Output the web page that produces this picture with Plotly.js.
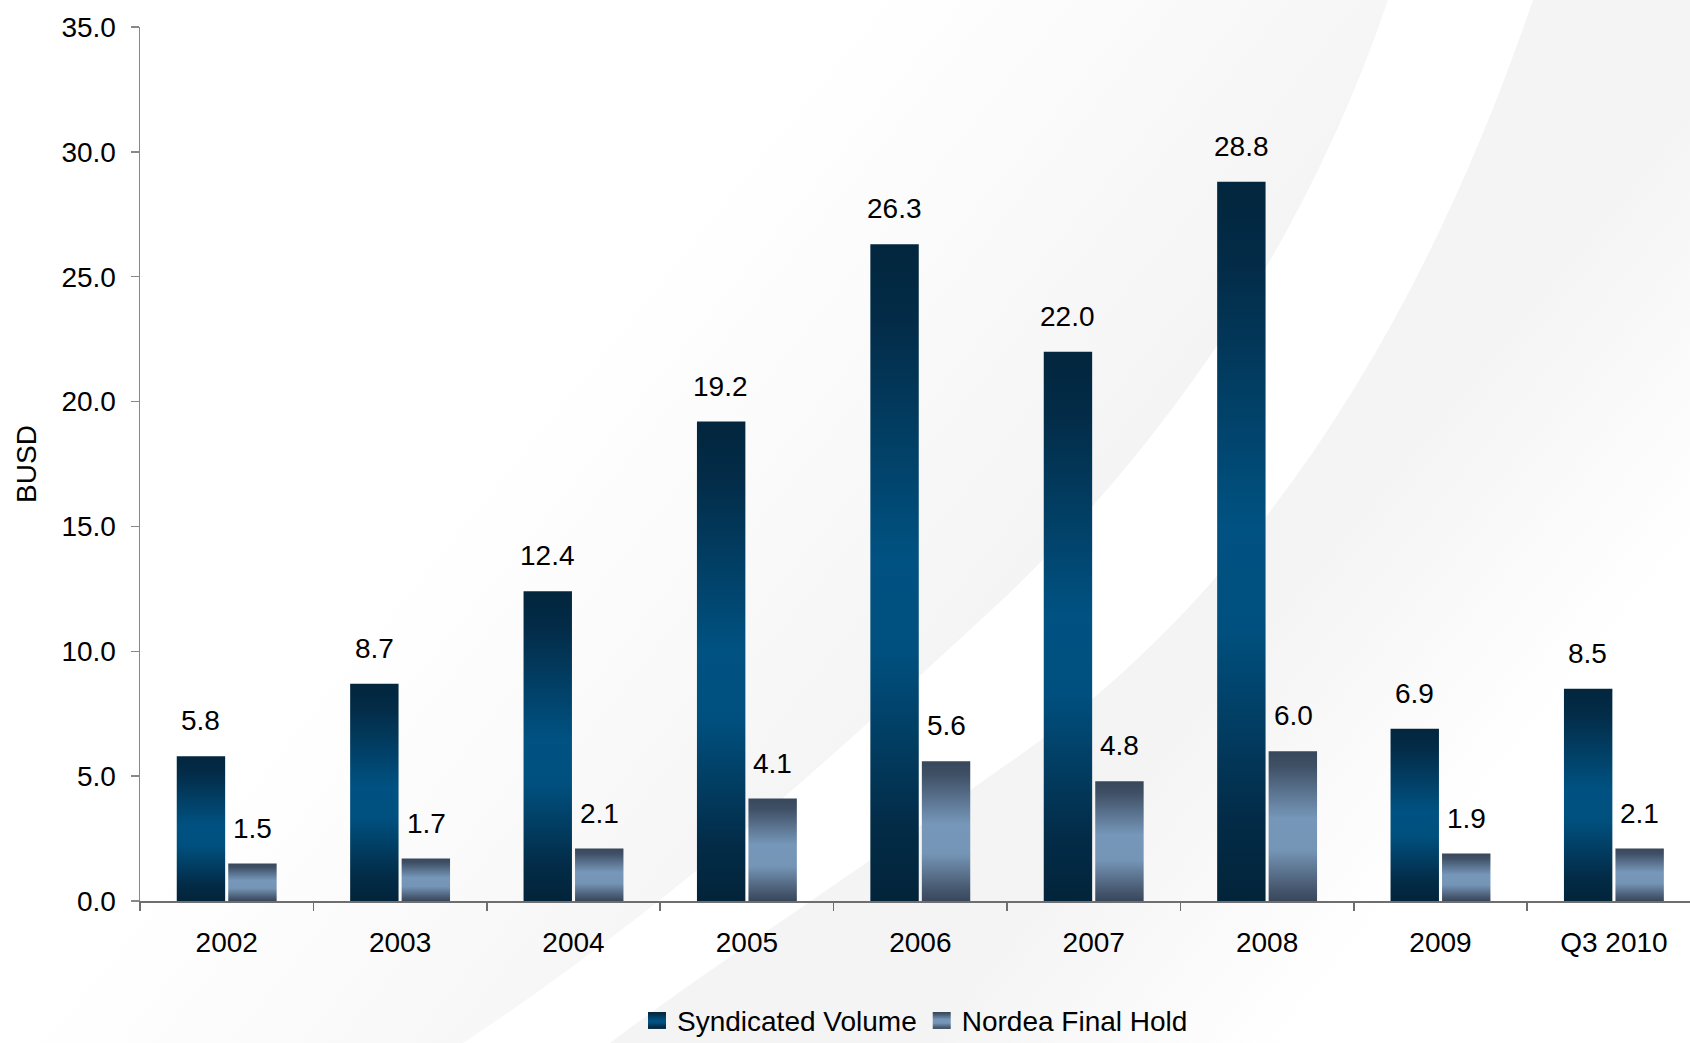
<!DOCTYPE html>
<html>
<head>
<meta charset="utf-8">
<script src="https://cdn.plot.ly/plotly-3.0.1.min.js"></script>
<style>
  html, body { margin: 0; padding: 0; background: #ffffff; }
  #chart { width: 1690px; height: 1043px; }
</style>
</head>
<body>
<div id="chart"></div>
<script>
// ---- data ----
var categories = ["2002", "2003", "2004", "2005", "2006", "2007", "2008", "2009", "Q3 2010"];
var syndicatedVolume = [5.8, 8.7, 12.4, 19.2, 26.3, 22.0, 28.8, 6.9, 8.5];
var nordeaFinalHold = [1.5, 1.7, 2.1, 4.1, 5.6, 4.8, 6.0, 1.9, 2.1];
var seriesNames = ["Syndicated Volume", "Nordea Final Hold"];
var yTickValues = [0, 5, 10, 15, 20, 25, 30, 35];

var FONT = "Liberation Sans, Arial, Helvetica, sans-serif";

var W = 1690, H = 1043;
var mL = 140, mR = 0, mT = 27, mB = 142;
var plotW = W - mL - mR, plotH = H - mT - mB;
var catW = 173.4; // pixel width of one category in the reference
var xMax = -0.5 + plotW / catW;

// background swoosh (decoration only)
var bgSvg =
  "<svg xmlns='http://www.w3.org/2000/svg' width='1690' height='1043' viewBox='0 0 1690 1043'>" +
  "<defs>" +
  "<linearGradient id='a' gradientUnits='userSpaceOnUse' x1='640' y1='280' x2='1060' y2='620'>" +
  "<stop offset='0' stop-color='#ffffff'/><stop offset='1' stop-color='#f3f3f3'/></linearGradient>" +
  "<linearGradient id='b' gradientUnits='userSpaceOnUse' x1='1180' y1='720' x2='1400' y2='900'>" +
  "<stop offset='0' stop-color='#f4f4f4'/><stop offset='1' stop-color='#ffffff'/></linearGradient>" +
  "</defs>" +
  "<rect width='1690' height='1043' fill='#ffffff'/>" +
  "<path d='M1388,0 C1300,260 1150,460 1000,602 C850,740 680,900 463,1043 L0,1043 L0,0 Z' fill='url(#a)'/>" +
  "<path d='M1533,0 C1420,330 1250,600 1000,769 C860,870 720,960 610,1043 L1690,1043 L1690,0 Z' fill='url(#b)'/>" +
  "</svg>";
var bgUri = "data:image/svg+xml;charset=utf-8," + encodeURIComponent(bgSvg);

var traceSyn = {
  type: "bar",
  name: seriesNames[0],
  x: categories,
  y: syndicatedVolume,
  marker: { color: "#004a78", line: { width: 0 } },
  hoverinfo: "skip"
};
var traceNor = {
  type: "bar",
  name: seriesNames[1],
  x: categories,
  y: nordeaFinalHold,
  marker: { color: "#6a88aa", line: { width: 0 } },
  hoverinfo: "skip"
};

var annotations = [];
function addLabels(values, shift) {
  for (var i = 0; i < categories.length; i++) {
    annotations.push({
      x: i, y: values[i], xref: "x", yref: "y",
      text: values[i].toFixed(1), showarrow: false,
      xanchor: "center", yanchor: "bottom",
      xshift: shift, yshift: 18,
      font: { family: FONT, size: 28, color: "#000000" }
    });
  }
}
addLabels(syndicatedVolume, -26);
addLabels(nordeaFinalHold, 26);

var layout = {
  width: W, height: H,
  margin: { l: mL, r: mR, t: mT, b: mB, pad: 0, autoexpand: false },
  paper_bgcolor: "#ffffff",
  plot_bgcolor: "rgba(0,0,0,0)",
  font: { family: FONT, size: 28, color: "#000000" },
  showlegend: true,
  barmode: "group",
  bargap: 0.406,
  bargroupgap: 0.06,
  images: [{
    source: bgUri, xref: "paper", yref: "paper",
    x: -mL / plotW, y: 1 + mT / plotH,
    sizex: W / plotW, sizey: H / plotH,
    xanchor: "left", yanchor: "top",
    sizing: "stretch", layer: "below", opacity: 1
  }],
  xaxis: {
    type: "category",
    range: [-0.5, xMax],
    showgrid: false, zeroline: false,
    showline: true, linecolor: "#6e6e6e", linewidth: 1.5,
    ticks: "outside", tickson: "boundaries", ticklen: 8, tickwidth: 1.5, tickcolor: "#6e6e6e",
    tickfont: { family: FONT, size: 28, color: "#000000" },
    ticklabelstandoff: 16,
    fixedrange: true
  },
  yaxis: {
    range: [0, 35],
    tickvals: yTickValues,
    tickformat: ".1f",
    showgrid: false, zeroline: false,
    showline: true, linecolor: "#888888", linewidth: 1.5,
    ticks: "outside", ticklen: 8, tickwidth: 1.5, tickcolor: "#888888",
    tickfont: { family: FONT, size: 28, color: "#000000" },
    ticklabelstandoff: 9,
    title: { text: "BUSD", font: { family: FONT, size: 28, color: "#000000" }, standoff: 16 },
    fixedrange: true
  },
  legend: {
    orientation: "h",
    x: 0.5, xanchor: "center",
    y: -0.137, yanchor: "middle",
    bgcolor: "rgba(0,0,0,0)",
    font: { family: FONT, size: 28, color: "#000000" },
    itemwidth: 30,
    tracegroupgap: 0
  },
  annotations: annotations
};

var gradDefs = [
  { id: "gradSyn", stops: [[0, "#02263d"], [0.12, "#032c48"], [0.48, "#005282"], [0.62, "#00507f"], [0.88, "#032c48"], [1, "#02243a"]] },
  { id: "gradNor", stops: [[0, "#38475b"], [0.1, "#3f5066"], [0.45, "#7697b9"], [0.66, "#7595b6"], [0.92, "#46576e"], [1, "#38475b"]] }
];

function applyGradients(gd) {
  var NS = "http://www.w3.org/2000/svg";
  var svg = gd.querySelector("svg.main-svg");
  var defs = svg.querySelector("defs");
  if (!defs) { defs = document.createElementNS(NS, "defs"); svg.insertBefore(defs, svg.firstChild); }
  gradDefs.forEach(function (g) {
    var lg = document.createElementNS(NS, "linearGradient");
    lg.setAttribute("id", g.id);
    lg.setAttribute("x1", "0"); lg.setAttribute("y1", "0");
    lg.setAttribute("x2", "0"); lg.setAttribute("y2", "1");
    g.stops.forEach(function (s) {
      var st = document.createElementNS(NS, "stop");
      st.setAttribute("offset", s[0]);
      st.setAttribute("stop-color", s[1]);
      lg.appendChild(st);
    });
    defs.appendChild(lg);
  });
  var traces = gd.querySelectorAll(".barlayer .trace");
  traces.forEach(function (t, i) {
    t.querySelectorAll("path").forEach(function (p) {
      p.style.fill = "url(#" + gradDefs[i].id + ")";
    });
  });
  var leg = gd.querySelectorAll(".legend .traces");
  leg.forEach(function (t, i) {
    t.querySelectorAll(".legendpoints path").forEach(function (p) {
      p.setAttribute("d", "M9,8.5H-9V-8.5H9Z");
      p.style.fill = "url(#" + gradDefs[i].id + ")";
    });
  });
}

Plotly.newPlot("chart", [traceSyn, traceNor], layout, { staticPlot: true, displayModeBar: false })
  .then(applyGradients);
</script>
</body>
</html>
